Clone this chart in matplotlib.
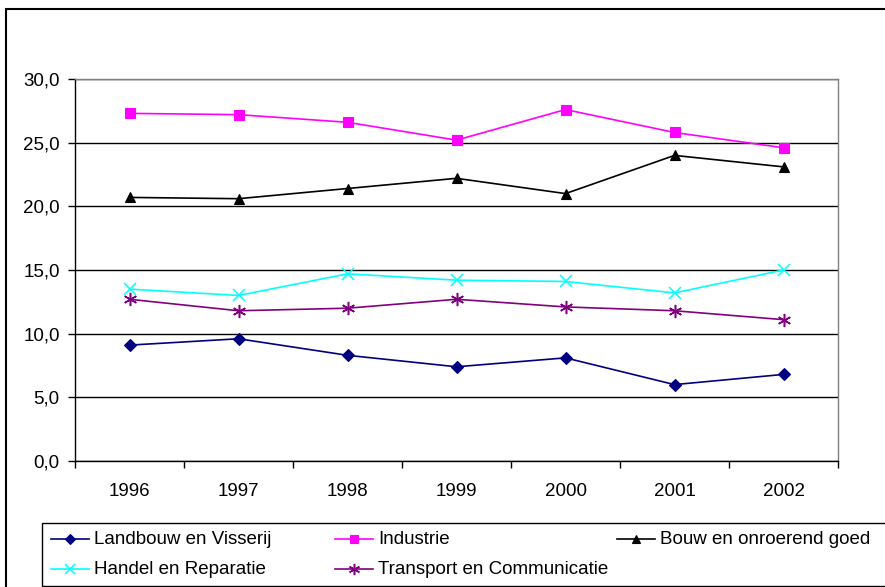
import numpy as np
import matplotlib.pyplot as plt
from matplotlib.lines import Line2D
from matplotlib.patches import Rectangle
from matplotlib.ticker import FuncFormatter

plt.rcParams['font.family'] = ['Liberation Sans', 'DejaVu Sans']

# --- data ---
years = ["1996", "1997", "1998", "1999", "2000", "2001", "2002"]
landbouw = [9.1, 9.6, 8.3, 7.4, 8.1, 6.0, 6.8]
industrie = [27.3, 27.2, 26.6, 25.2, 27.6, 25.8, 24.6]
bouw = [20.7, 20.6, 21.4, 22.2, 21.0, 24.0, 23.1]
handel = [13.5, 13.0, 14.7, 14.2, 14.1, 13.2, 15.0]
transport = [12.7, 11.8, 12.0, 12.7, 12.1, 11.8, 11.1]

names = ["Landbouw en Visserij", "Industrie", "Bouw en onroerend goed",
         "Handel en Reparatie", "Transport en Communicatie"]
series = [landbouw, industrie, bouw, handel, transport]

# --- styles ---
colors = ["#000080", "#FF00FF", "#000000", "#00FFFF", "#800080"]
markers = ["D", "s", "^", "x", (6, 2, 0)]
msizes = [6, 6.5, 7.5, 8, 9.5]
FS = 13.5

W, H = 885, 587
fig = plt.figure(figsize=(W / 100, H / 100), dpi=100)

def fx(px):
    return px / W

def fy(py):
    return 1 - py / H

ax = fig.add_axes([fx(75), fy(461), fx(838) - fx(75), fy(79) - fy(461)])
x = np.arange(len(years))

lines = []
for vals, c, m, ms in zip(series, colors, markers, msizes):
    ln, = ax.plot(x, vals, color=c, marker=m, markersize=ms, lw=1.2,
                  markeredgewidth=1.1 if m in ("x", (6, 2, 0)) else 0.8,
                  markeredgecolor=c, markerfacecolor=c, clip_on=False)
    lines.append(ln)

ax.set_xlim(-0.5, len(years) - 0.5)
ax.set_ylim(0, 30)
ax.set_yticks(np.arange(0, 31, 5))
ax.yaxis.set_major_formatter(FuncFormatter(lambda v, p: f"{v:.1f}".replace(".", ",")))
ax.yaxis.grid(True, color="black", lw=1)
ax.set_axisbelow(True)

ax.set_xticks(x)
ax.set_xticklabels(years)
ax.set_xticks(np.arange(-0.5, len(years), 1), minor=True)
ax.tick_params(axis="x", which="major", length=0, pad=16, labelsize=FS)
ax.tick_params(axis="x", which="minor", length=5, width=1, direction="out")
ax.tick_params(axis="y", length=5, width=1, pad=6, labelsize=FS)

for s in ("top", "right"):
    ax.spines[s].set_color("#808080")
    ax.spines[s].set_linewidth(1)
for s in ("left", "bottom"):
    ax.spines[s].set_color("black")
    ax.spines[s].set_linewidth(1)

# outer chart frame
fig.add_artist(Rectangle((fx(6), -0.05), 1.1, fy(9) + 0.05, transform=fig.transFigure,
                         fill=False, edgecolor="black", lw=1.5))

# legend box, drawn by hand to match the column layout
fig.add_artist(Rectangle((fx(42), fy(586)), 1.1, fy(523) - fy(586), transform=fig.transFigure,
                         fill=False, edgecolor="black", lw=1))
col_x = [51, 335, 617]
row_y = [539, 569]
for i, (ln, name) in enumerate(zip(lines, names)):
    cx = col_x[i % 3]
    ry = row_y[i // 3]
    fig.add_artist(Line2D([fx(cx), fx(cx + 38)], [fy(ry), fy(ry)], transform=fig.transFigure,
                          color=ln.get_color(), lw=1.2))
    fig.add_artist(Line2D([fx(cx + 19)], [fy(ry)], transform=fig.transFigure,
                          color=ln.get_color(), marker=ln.get_marker(),
                          markersize=ln.get_markersize() * 0.85,
                          markeredgewidth=ln.get_markeredgewidth(),
                          markerfacecolor=ln.get_color(), markeredgecolor=ln.get_color()))
    fig.text(fx(cx + 43), fy(ry), name, fontsize=FS, va="center", ha="left")

fig.savefig("out.png", dpi=100)
